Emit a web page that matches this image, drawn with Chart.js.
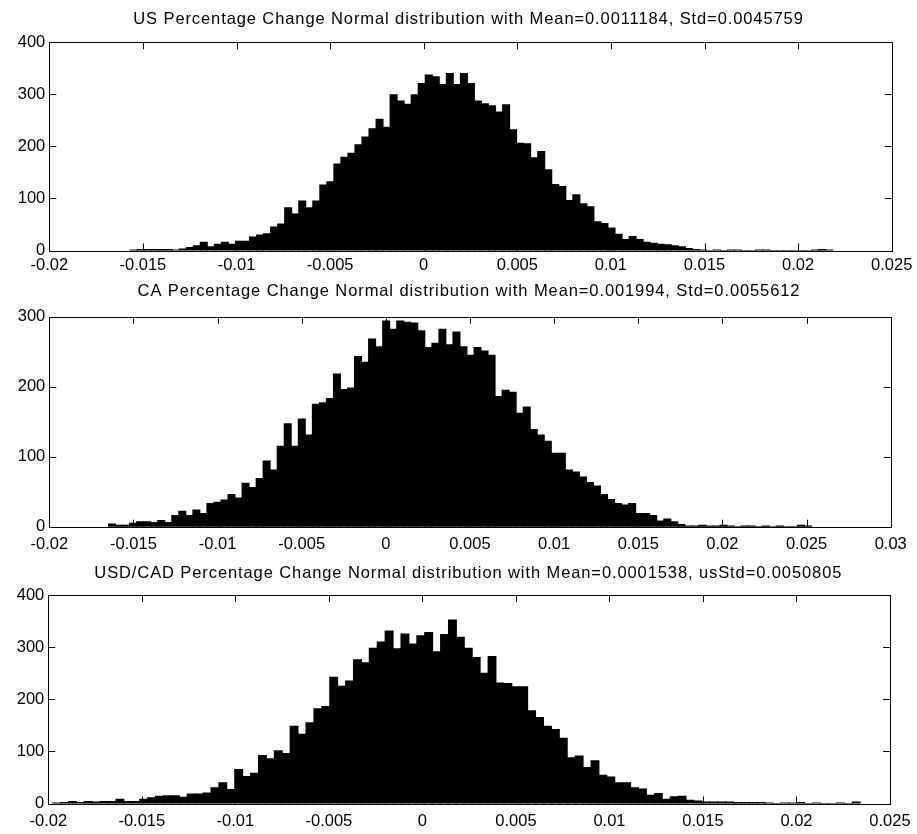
<!DOCTYPE html>
<html><head><meta charset="utf-8">
<script src="https://cdn.jsdelivr.net/npm/chart.js@4.4.1/dist/chart.umd.min.js"></script>
<style>
html,body{margin:0;padding:0;background:#fff;overflow:hidden;}
#wrap{position:relative;width:917px;height:834px;overflow:hidden;background:#fff;}
canvas{position:absolute;left:0;}
</style></head><body>
<div id="wrap">
<canvas id="c1" width="925" height="282" style="top:0px"></canvas>
<canvas id="c2" width="926" height="284" style="top:276px"></canvas>
<canvas id="c3" width="925" height="281" style="top:553px"></canvas>
</div>
<script>
// ---------- DATA ----------
const usTitle = 'US Percentage Change Normal distribution with Mean=0.0011184, Std=0.0045759';
const caTitle = 'CA Percentage Change Normal distribution with Mean=0.001994, Std=0.0055612';
const fxTitle = 'USD/CAD Percentage Change Normal distribution with Mean=0.0001538, usStd=0.0050805';

// histogram bin edges: first edge and bin width
const usBinStart = -0.015689, usBinWidth = 0.0003755;
const caBinStart = -0.016482, caBinWidth = 0.0004177;
const fxBinStart = -0.01977,  fxBinWidth = 0.0004233;

const usCounts = [
  1, 2, 2, 2, 2, 2, 1, 3, 6, 9,
  16, 7, 12, 16, 12, 18, 18, 26, 30, 32,
  45, 51, 82, 70, 95, 82, 95, 126, 132, 166,
  179, 187, 203, 218, 234, 252, 237, 299, 287, 281,
  299, 321, 337, 334, 319, 340, 319, 340, 321, 287,
  282, 278, 266, 280, 232, 206, 205, 178, 190, 155,
  127, 123, 96, 107, 90, 84, 55, 52, 43, 31,
  21, 27, 21, 16, 14, 12, 11, 9, 7, 4,
  2, 1, 0, 1, 0, 1, 1, 0, 0, 1,
  1, 0, 0, 0, 0, 0, 0, 1, 2, 1
];
const caCounts = [
  4, 2, 2, 5, 7, 7, 6, 9, 6, 16,
  22, 16, 24, 19, 33, 35, 38, 46, 41, 62,
  56, 69, 94, 81, 115, 147, 115, 154, 131, 175,
  177, 183, 218, 196, 198, 243, 235, 268, 257, 294,
  282, 294, 292, 291, 280, 256, 262, 282, 260, 278,
  257, 245, 256, 251, 245, 186, 195, 192, 162, 171,
  139, 131, 122, 105, 105, 81, 78, 71, 63, 58,
  46, 39, 33, 31, 33, 19, 19, 16, 8, 11,
  7, 3, 1, 1, 2, 1, 1, 2, 1, 0,
  1, 1, 0, 1, 0, 1, 0, 0, 2, 1
];
const fxCounts = [
  1, 2, 4, 2, 4, 3, 4, 4, 8, 4,
  4, 8, 11, 14, 15, 15, 12, 18, 18, 20,
  30, 40, 27, 65, 52, 58, 92, 86, 101, 96,
  148, 133, 155, 182, 186, 242, 225, 235, 276, 270,
  298, 310, 331, 297, 325, 306, 322, 328, 291, 324,
  352, 319, 298, 280, 250, 282, 231, 230, 224, 224,
  178, 165, 148, 142, 125, 88, 91, 69, 82, 54,
  51, 40, 40, 30, 28, 16, 19, 8, 13, 14,
  6, 5, 3, 3, 3, 3, 2, 2, 2, 2,
  1, 0, 1, 1, 2, 0, 1, 0, 0, 1,
  0, 3
];

const usXTicks = [-0.02, -0.015, -0.01, -0.005, 0, 0.005, 0.01, 0.015, 0.02, 0.025];
const caXTicks = [-0.02, -0.015, -0.01, -0.005, 0, 0.005, 0.01, 0.015, 0.02, 0.025, 0.03];
const fxXTicks = [-0.02, -0.015, -0.01, -0.005, 0, 0.005, 0.01, 0.015, 0.02, 0.025];
const usYTicks = [0, 100, 200, 300, 400];
const caYTicks = [0, 100, 200, 300];
const fxYTicks = [0, 100, 200, 300, 400];

// ---------- RENDERING ----------
const FONT = "'Liberation Sans', Arial, Helvetica, sans-serif";

const boxTicks = {
  id: 'boxTicks',
  afterLayout(chart) {
    const tb = chart.titleBlock;
    if (tb && !tb._spaced) {
      const orig = tb.draw.bind(tb);
      tb.draw = function (area) {
        const ctx = chart.ctx;
        ctx.save();
        ctx.letterSpacing = '0.9px';
        orig(area);
        ctx.restore();
      };
      tb._spaced = true;
    }
  },
  afterDraw(chart) {
    const {ctx, chartArea: a, scales: {x, y}} = chart;
    const L = 7;
    ctx.save();
    ctx.strokeStyle = '#000';
    ctx.lineWidth = 1;
    ctx.beginPath();
    x.ticks.forEach(t => {
      const px = Math.round(x.getPixelForValue(t.value)) + 0.5;
      if (px < a.left + 1 || px > a.right - 1) return;
      ctx.moveTo(px, a.bottom); ctx.lineTo(px, a.bottom - L);
      ctx.moveTo(px, a.top); ctx.lineTo(px, a.top + L);
    });
    y.ticks.forEach(t => {
      const py = Math.round(y.getPixelForValue(t.value)) + 0.5;
      if (py < a.top + 1 || py > a.bottom - 1) return;
      ctx.moveTo(a.left, py); ctx.lineTo(a.left + L, py);
      ctx.moveTo(a.right, py); ctx.lineTo(a.right - L, py);
    });
    ctx.stroke();
    ctx.strokeRect(Math.round(a.left) + 0.5, Math.round(a.top) + 0.5,
                   Math.round(a.right) - Math.round(a.left), Math.round(a.bottom) - Math.round(a.top));
    ctx.restore();
  }
};

function fmt(v) { return String(+Number(v).toFixed(4)); }

function makeHist(canvasId, title, counts, binStart, binWidth, xTicks, yTicks, geo) {
  const data = counts.map((c, i) => ({x: binStart + (i + 0.5) * binWidth, y: c}));
  return new Chart(document.getElementById(canvasId), {
    type: 'bar',
    data: { datasets: [{ data, backgroundColor: '#000', borderWidth: 0,
                         barPercentage: 1, categoryPercentage: 1, inflateAmount: 0.5 }] },
    options: {
      responsive: false, animation: false,
      layout: { padding: { left: geo.padLeft, right: 0, top: 0, bottom: 0 } },
      plugins: {
        legend: { display: false }, tooltip: { enabled: false },
        title: { display: true, text: title, color: '#000',
                 font: { family: FONT, size: 16.5, weight: 'normal', lineHeight: 1.2 },
                 padding: { top: geo.titleTop, bottom: geo.titleBottom } }
      },
      scales: {
        x: { type: 'linear', min: xTicks[0], max: xTicks[xTicks.length - 1], offset: false,
             grid: { display: false, drawTicks: false }, border: { display: false },
             afterBuildTicks: s => { s.ticks = xTicks.map(v => ({value: v})); },
             afterFit: s => { s.height = geo.xHeight; },
             ticks: { color: '#000', padding: geo.xPad, maxRotation: 0, autoSkip: false,
                      font: { family: FONT, size: 16.5 }, callback: v => fmt(v) } },
        y: { min: yTicks[0], max: yTicks[yTicks.length - 1],
             grid: { display: false, drawTicks: false }, border: { display: false },
             afterBuildTicks: s => { s.ticks = yTicks.map(v => ({value: v})); },
             afterFit: s => { s.width = geo.yWidth; },
             ticks: { color: '#000', padding: 4, font: { family: FONT, size: 16.5 },
                      callback: v => fmt(v) } },
        yR: { position: 'right', display: true,
              grid: { display: false, drawTicks: false }, border: { display: false },
              ticks: { display: false },
              afterFit: s => { s.width = geo.rightWidth; } }
      }
    },
    plugins: [boxTicks]
  });
}

makeHist('c1', usTitle, usCounts, usBinStart, usBinWidth, usXTicks, usYTicks,
  { padLeft: 12, yWidth: 37.3, rightWidth: 33.3, titleTop: 9.7, titleBottom: 12.8, xHeight: 31.5, xPad: 5 });
makeHist('c2', caTitle, caCounts, caBinStart, caBinWidth, caXTicks, caYTicks,
  { padLeft: 12, yWidth: 37.3, rightWidth: 35.3, titleTop: 5.4, titleBottom: 15.5, xHeight: 33.3, xPad: 8 });
makeHist('c3', fxTitle, fxCounts, fxBinStart, fxBinWidth, fxXTicks, fxYTicks,
  { padLeft: 11.6, yWidth: 36.7, rightWidth: 35, titleTop: 10.9, titleBottom: 11.3, xHeight: 30.5, xPad: 8 });
</script>
</body></html>
